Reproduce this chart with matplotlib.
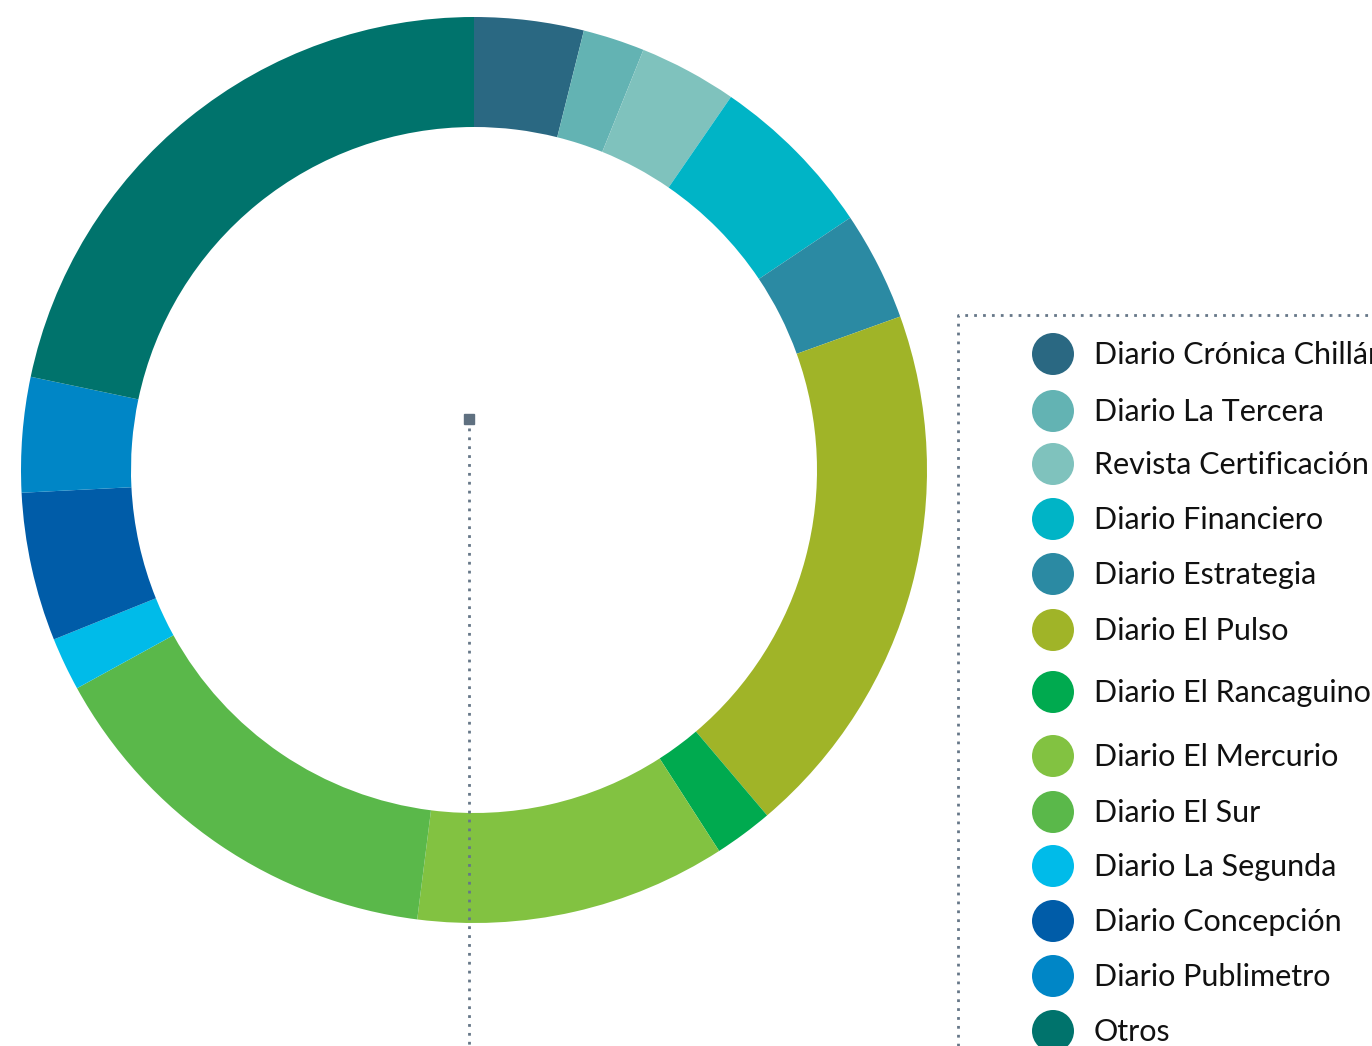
import matplotlib
matplotlib.use("Agg")
import matplotlib.pyplot as plt
from matplotlib.patches import Circle, Rectangle

labels = ["Diario Crónica Chillán", "Diario La Tercera", "Revista Certificación",
          "Diario Financiero", "Diario Estrategia", "Diario El Pulso",
          "Diario El Rancaguino", "Diario El Mercurio", "Diario El Sur",
          "Diario La Segunda", "Diario Concepción", "Diario Publimetro", "Otros"]
values = [3.9, 2.2, 3.5, 6.0, 3.9, 19.3, 2.1, 11.1, 15.0, 1.9, 5.3, 4.1, 21.7]
colors = ["#2a6882", "#63b3b3", "#7fc2bd", "#00b4c6", "#2b8aa3", "#a0b428",
          "#00aa4f", "#82c241", "#5ab84a", "#00bbe9", "#005ca8", "#0086c6", "#00736c"]

W, H = 1372, 1046
fig = plt.figure(figsize=(W / 100, H / 100), dpi=100)
ax = fig.add_axes([0, 0, 1, 1])

cx, cy = 474, H - 470
R = 453
ax.pie(values, colors=colors, startangle=90, counterclock=False,
       center=(cx, cy), radius=R,
       wedgeprops=dict(width=110, linewidth=0))

ax.set_xlim(0, W)
ax.set_ylim(0, H)
ax.set_aspect("equal")
ax.axis("off")

grey = "#667788"
# center marker and dotted line
ax.add_patch(Rectangle((464, H - 424), 10, 10, color="#5f7080", zorder=5))
ax.plot([469, 469], [H - 428, 0], color=grey, lw=2, ls=(0, (1, 2.2)), zorder=5)

# legend box (dotted)
ax.plot([958, 958, W + 10], [0, H - 315, H - 315], color=grey, lw=2,
        ls=(0, (1, 2.2)), zorder=5, clip_on=False)

rows_y = [354, 411, 464, 519, 574, 630, 692, 756, 812, 866, 921, 976, 1031]
for lab, col, yy in zip(labels, colors, rows_y):
    ax.add_patch(Circle((1053, H - yy), 21, color=col, zorder=6, lw=0))
    ax.text(1094, H - yy - 10, lab, fontsize=22, family=["Lato", "DejaVu Sans"],
            va="baseline", ha="left", color="#111111", zorder=6)

fig.savefig("out.png", dpi=100)
